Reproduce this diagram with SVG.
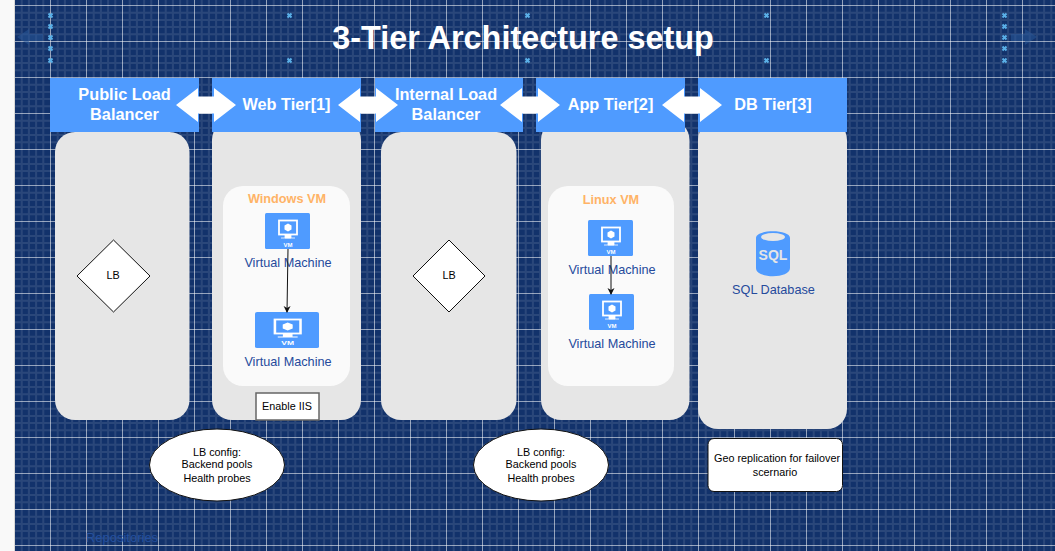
<svg xmlns="http://www.w3.org/2000/svg" xmlns:xlink="http://www.w3.org/1999/xlink" width="1055" height="551" viewBox="0 0 1055 551">
<style>
text{font-family:"Liberation Sans",Arial,sans-serif;text-anchor:middle}
.hdr{fill:#4f9bff}
.hd{font-size:16.3px;font-weight:bold;fill:#fff}
.col{fill:#e6e6e6}
.vmb{fill:#fafafa}
.vmt{font-size:12.7px;font-weight:bold;fill:#ffb366}
.lab{font-size:12.7px;fill:#254a9c}
.sm{font-size:10.8px;fill:#000}
.dark{stroke:#111;stroke-width:1}
.x{stroke:#5ab0e8;stroke-width:2;fill:none}
.ic{fill:#4f9bff}
.dbl{fill:#fff}
.conn{stroke:#111;stroke-width:1;fill:none;marker-end:url(#ah)}
</style>
<defs>
<pattern id="grid" x="14" y="5" width="36" height="36" patternUnits="userSpaceOnUse">
<path d="M7.7 0V36M14.9 0V36M22.1 0V36M29.3 0V36M0 7.7H36M0 14.9H36M0 22.1H36M0 29.300H36" stroke="#fff" stroke-opacity=".1" stroke-width="2" fill="none"/>
<path d="M0.5 0V36M0 0.5H36" stroke="#fff" stroke-opacity=".55" stroke-width="1" fill="none"/>
</pattern>
<marker id="ah" markerWidth="8" markerHeight="8" refX="6" refY="4" orient="auto" markerUnits="userSpaceOnUse"><path d="M0 0.5L7 4L0 7.5L2 4Z" fill="#111"/></marker>
<symbol id="mon" viewBox="0 0 45 36" preserveAspectRatio="none">
<rect width="45" height="36" rx="1.500" class="ic"/>
<rect x="14" y="7.500" width="18" height="14" fill="none" stroke="#fff" stroke-width="1.800"/>
<path d="M23 10.500l3.500 2v4l-3.500 2-3.500-2v-4z" fill="#fff"/>
<path d="M20 25h6v-3h-6zM16 25h14" fill="#fff" stroke="#fff" stroke-width=".8"/>
<text x="23" y="33.500" style="font-size:6px;font-weight:bold;fill:#fff">VM</text>
</symbol>
<path id="dbar" d="M0 0L22 -17V-8.500H38V-17L60 0L38 17V8.500H22V17Z"/>
<g id="xm"><path d="M-2 -2L2 2M2 -2L-2 2"/></g>
</defs>
<rect width="1055" height="551" fill="#f9f9f9"/>
<g id="background">
<rect x="14" width="1041" height="551" fill="#12326b"/>
<rect x="14" width="1041" height="551" fill="url(#grid)"/>
<rect x="14" width="1" height="551" fill="#d8d8d8"/>
<path d="M17 37L29 29V34H43V41H29V45Z" fill="#2a5a9c" opacity=".5"/>
<path d="M1037 37L1025 29V34H1011V41H1025V45Z" fill="#2a5a9c" opacity=".5"/>
<text x="122" y="542" style="font-size:13px;fill:#24509f">Repositories</text>
</g>
<g id="handles" class="x">
<use href="#xm" x="50.500" y="15.500"/><use href="#xm" x="50.500" y="26.500"/><use href="#xm" x="50.500" y="37.500"/><use href="#xm" x="50.500" y="48.500"/><use href="#xm" x="50.500" y="60.500"/>
<use href="#xm" x="289.500" y="15.500"/><use href="#xm" x="289.500" y="60.500"/>
<use href="#xm" x="527.500" y="15.500"/><use href="#xm" x="527.500" y="60.500"/>
<use href="#xm" x="766.500" y="15.500"/><use href="#xm" x="766.500" y="60.500"/>
<use href="#xm" x="1004.500" y="15.500"/><use href="#xm" x="1004.500" y="26.500"/><use href="#xm" x="1004.500" y="37.500"/><use href="#xm" x="1004.500" y="48.500"/><use href="#xm" x="1004.500" y="60.500"/>
</g>
<text id="title" x="523" y="49" style="font-size:32.400px;font-weight:bold;fill:#fff">3-Tier Architecture setup</text>

<g id="col-public"><rect class="col" x="55" y="132" width="134.500" height="288" rx="20"/></g>
<g id="col-web"><rect class="col" x="212" y="120" width="149" height="300" rx="20"/></g>
<g id="col-internal"><rect class="col" x="381" y="132" width="135.500" height="288" rx="20"/></g>
<g id="col-app"><rect class="col" x="541" y="120" width="148.500" height="300" rx="20"/></g>
<g id="col-db"><rect class="col" x="698" y="120" width="149" height="309" rx="20"/></g>

<g id="hdr-public"><rect class="hdr" x="50" y="78" width="149" height="54"/><text class="hd" x="124.500" y="100">Public Load</text><text class="hd" x="124.500" y="120">Balancer</text></g>
<g id="hdr-web"><rect class="hdr" x="212" y="78" width="149" height="54"/><text class="hd" x="286.500" y="110">Web Tier[1]</text></g>
<g id="hdr-internal"><rect class="hdr" x="375" y="78" width="148" height="54"/><text class="hd" x="446" y="100">Internal Load</text><text class="hd" x="446" y="120">Balancer</text></g>
<g id="hdr-app"><rect class="hdr" x="536" y="78" width="149" height="54"/><text class="hd" x="610.500" y="110">App Tier[2]</text></g>
<g id="hdr-db"><rect class="hdr" x="698" y="78" width="149" height="54"/><text class="hd" x="773" y="110">DB Tier[3]</text></g>

<g id="arrows" class="dbl">
<use href="#dbar" x="176" y="105"/><use href="#dbar" x="338" y="105"/><use href="#dbar" x="500" y="105"/><use href="#dbar" x="662" y="105"/>
</g>

<g id="lb-public"><path d="M113.500 240L150 276L113.500 312L77 276Z" fill="#fff" class="dark"/><text class="sm" x="113" y="279">LB</text></g>
<g id="lb-internal"><path d="M449 240L485 276L449 312L413 276Z" fill="#fff" class="dark"/><text class="sm" x="449" y="279">LB</text></g>

<g id="win-vm"><rect class="vmb" x="223" y="186" width="127" height="200" rx="20"/><text class="vmt" x="287" y="203">Windows VM</text></g>
<g id="vm-web1"><use href="#mon" x="265" y="213" width="45" height="36"/><text class="lab" x="288" y="267">Virtual Machine</text></g>
<g id="vm-web2"><use href="#mon" x="255" y="312" width="64" height="36"/><text class="lab" x="288" y="366">Virtual Machine</text></g>
<g id="iis"><rect x="256" y="393" width="63" height="27" fill="#fff" stroke="#666" stroke-width="1.500"/><text class="sm" x="287" y="410">Enable IIS</text></g>

<g id="linux-vm"><rect class="vmb" x="548" y="186" width="126" height="200" rx="20"/><text class="vmt" x="611" y="204">Linux VM</text></g>
<g id="vm-app1"><use href="#mon" x="588" y="220" width="45" height="36"/><text class="lab" x="612" y="274">Virtual Machine</text></g>
<g id="vm-app2"><use href="#mon" x="589" y="294" width="45" height="36"/><text class="lab" x="612" y="348">Virtual Machine</text></g>

<g id="sql">
<path d="M756 238C756 229 790 229 790 238V268C790 279 756 279 756 268Z" class="ic"/>
<ellipse cx="773" cy="237" rx="12" ry="4" fill="#e6e6e6"/>
<text x="773" y="260" style="font-size:14px;font-weight:bold;fill:#e6e6e6">SQL</text>
<text class="lab" x="773.500" y="294">SQL Database</text>
</g>

<g id="note-lb1"><ellipse cx="217" cy="465" rx="67.500" ry="36" fill="#fff" stroke="#111"/><text class="sm" x="217" y="456">LB config:</text><text class="sm" x="217" y="468">Backend pools</text><text class="sm" x="217" y="482">Health probes</text></g>
<g id="note-lb2"><ellipse cx="541" cy="465" rx="67.500" ry="36" fill="#fff" stroke="#111"/><text class="sm" x="541" y="456">LB config:</text><text class="sm" x="541" y="468">Backend pools</text><text class="sm" x="541" y="482">Health probes</text></g>
<g id="note-geo"><rect x="708" y="438.500" width="134.500" height="53" rx="6" fill="#fff" stroke="#111"/><text class="sm" x="777" y="462">Geo replication for failover</text><text class="sm" x="775" y="476">scernario</text></g>

<g id="connectors">
<path class="conn" d="M288 249L287 312"/>
<path class="conn" d="M611 256L611 294"/>
</g>
</svg>
